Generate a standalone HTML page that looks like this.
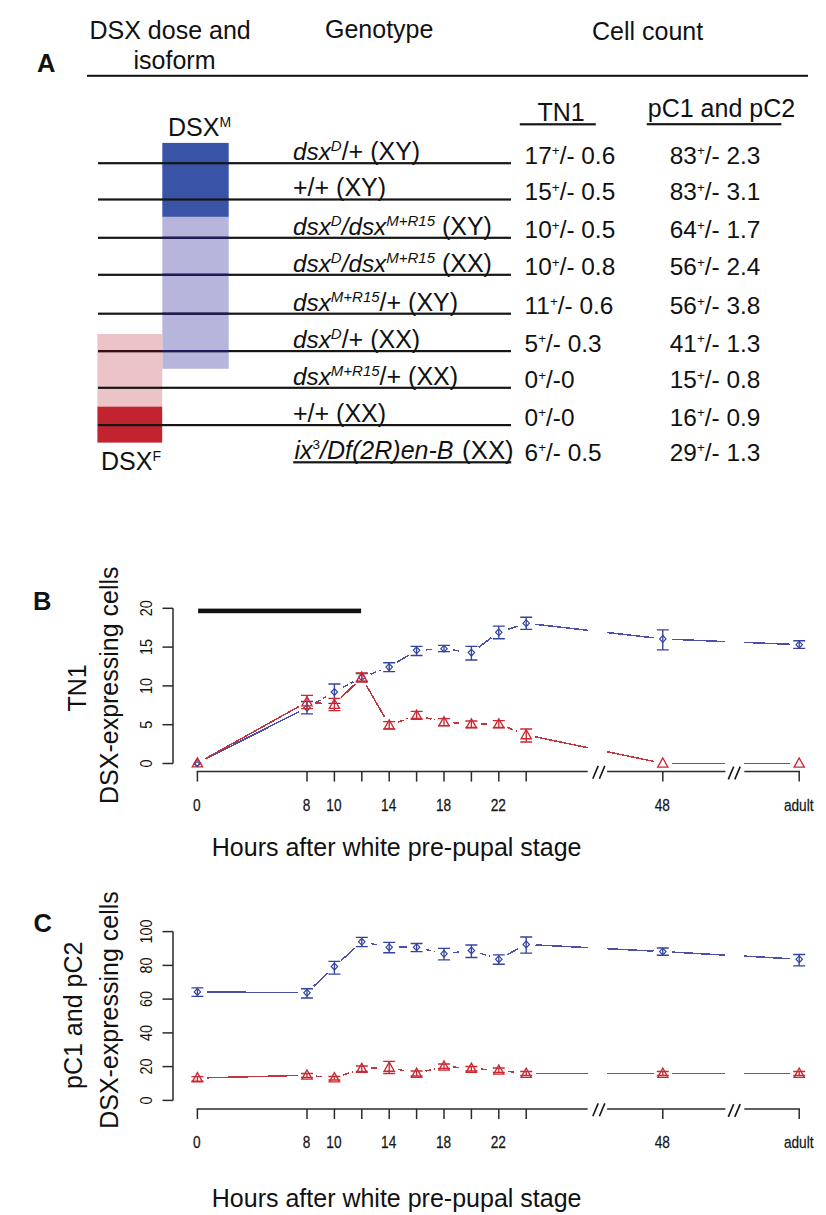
<!DOCTYPE html>
<html><head><meta charset="utf-8"><title>DSX figure</title>
<style>
html,body{margin:0;padding:0;background:#fff;}
svg{display:block;}
text{font-family:"Liberation Sans", sans-serif;fill:#111;}
.it{font-style:italic;}
</style></head><body>
<svg width="826" height="1215" viewBox="0 0 826 1215">
<rect width="826" height="1215" fill="#fff"/>

<text x="37" y="71.6" font-size="25.5" font-weight="bold">A</text>
<text x="89.5" y="38.7" font-size="25">DSX dose and</text>
<text x="133.5" y="68.5" font-size="25">isoform</text>
<text x="325" y="38.3" font-size="25">Genotype</text>
<text x="592" y="39.5" font-size="25">Cell count</text>
<rect x="87" y="74.8" width="721" height="2" fill="#111"/>
<rect x="162.3" y="142.9" width="66.4" height="74" fill="#3953a7"/>
<rect x="162.3" y="216.9" width="66.4" height="151.9" fill="#b8b5dc"/>
<rect x="97.4" y="334" width="64.8" height="72.6" fill="#ecc3c7"/>
<rect x="97.4" y="406.6" width="64.8" height="36" fill="#c1232f"/>
<text x="168" y="136.1" font-size="25">DSX<tspan font-size="14" dy="-9">M</tspan></text>
<text x="101" y="469.6" font-size="25">DSX<tspan font-size="14" dy="-9">F</tspan></text>
<text x="537.5" y="121.4" font-size="25">TN1</text>
<rect x="519.8" y="123.2" width="76" height="2.2" fill="#161616"/>
<text x="647.8" y="116.5" font-size="25">pC1 and pC2</text>
<rect x="646.8" y="123.1" width="134.6" height="2.2" fill="#161616"/>
<rect x="98" y="162.1" width="413" height="2.2" fill="#161616"/>
<rect x="98" y="198.4" width="413" height="2.2" fill="#161616"/>
<rect x="98" y="236.7" width="413" height="2.2" fill="#161616"/>
<rect x="162.3" y="236.7" width="66.4" height="2.2" fill="#1e1a5c"/>
<rect x="98" y="273.7" width="413" height="2.2" fill="#161616"/>
<rect x="162.3" y="273.7" width="66.4" height="2.2" fill="#1e1a5c"/>
<rect x="98" y="312.6" width="413" height="2.2" fill="#161616"/>
<rect x="162.3" y="312.6" width="66.4" height="2.2" fill="#1e1a5c"/>
<rect x="98" y="350.0" width="413" height="2.2" fill="#161616"/>
<rect x="162.3" y="350.0" width="66.4" height="2.2" fill="#1e1a5c"/>
<rect x="98" y="350.0" width="64.3" height="2.2" fill="#3a0e14"/>
<rect x="98" y="386.7" width="413" height="2.2" fill="#161616"/>
<rect x="98" y="424.0" width="413" height="2.2" fill="#161616"/>
<rect x="293.2" y="461.2" width="218" height="2.2" fill="#161616"/>
<text x="293" y="160.0" font-size="25"><tspan class="it" font-size="24.3">dsx</tspan><tspan class="it" font-size="15" dy="-9">D</tspan><tspan dy="9">/+ (XY)</tspan></text>
<text x="524.6" y="163.6" font-size="24.4">17<tspan font-size="13.5" dy="-8.3">+</tspan><tspan dy="8.3">/- 0.6</tspan></text>
<text x="669.8" y="163.6" font-size="24.4">83<tspan font-size="13.5" dy="-8.3">+</tspan><tspan dy="8.3">/- 2.3</tspan></text>
<text x="293" y="196.3" font-size="25">+/+ (XY)</text>
<text x="524.6" y="199.9" font-size="24.4">15<tspan font-size="13.5" dy="-8.3">+</tspan><tspan dy="8.3">/- 0.5</tspan></text>
<text x="669.8" y="199.9" font-size="24.4">83<tspan font-size="13.5" dy="-8.3">+</tspan><tspan dy="8.3">/- 3.1</tspan></text>
<text x="293" y="234.6" font-size="25"><tspan class="it" font-size="24.3">dsx</tspan><tspan class="it" font-size="15" dy="-9">D</tspan><tspan class="it" font-size="24.3" dy="9">/dsx</tspan><tspan class="it" font-size="15" dy="-9">M+R15</tspan><tspan dy="9"> (XY)</tspan></text>
<text x="524.6" y="238.2" font-size="24.4">10<tspan font-size="13.5" dy="-8.3">+</tspan><tspan dy="8.3">/- 0.5</tspan></text>
<text x="669.8" y="238.2" font-size="24.4">64<tspan font-size="13.5" dy="-8.3">+</tspan><tspan dy="8.3">/- 1.7</tspan></text>
<text x="293" y="271.6" font-size="25"><tspan class="it" font-size="24.3">dsx</tspan><tspan class="it" font-size="15" dy="-9">D</tspan><tspan class="it" font-size="24.3" dy="9">/dsx</tspan><tspan class="it" font-size="15" dy="-9">M+R15</tspan><tspan dy="9"> (XX)</tspan></text>
<text x="524.6" y="275.2" font-size="24.4">10<tspan font-size="13.5" dy="-8.3">+</tspan><tspan dy="8.3">/- 0.8</tspan></text>
<text x="669.8" y="275.2" font-size="24.4">56<tspan font-size="13.5" dy="-8.3">+</tspan><tspan dy="8.3">/- 2.4</tspan></text>
<text x="293" y="310.5" font-size="25"><tspan class="it" font-size="24.3">dsx</tspan><tspan class="it" font-size="15" dy="-9">M+R15</tspan><tspan dy="9">/+ (XY)</tspan></text>
<text x="524.6" y="314.1" font-size="24.4">11<tspan font-size="13.5" dy="-8.3">+</tspan><tspan dy="8.3">/- 0.6</tspan></text>
<text x="669.8" y="314.1" font-size="24.4">56<tspan font-size="13.5" dy="-8.3">+</tspan><tspan dy="8.3">/- 3.8</tspan></text>
<text x="293" y="347.9" font-size="25"><tspan class="it" font-size="24.3">dsx</tspan><tspan class="it" font-size="15" dy="-9">D</tspan><tspan dy="9">/+ (XX)</tspan></text>
<text x="524.6" y="351.5" font-size="24.4">5<tspan font-size="13.5" dy="-8.3">+</tspan><tspan dy="8.3">/- 0.3</tspan></text>
<text x="669.8" y="351.5" font-size="24.4">41<tspan font-size="13.5" dy="-8.3">+</tspan><tspan dy="8.3">/- 1.3</tspan></text>
<text x="293" y="384.6" font-size="25"><tspan class="it" font-size="24.3">dsx</tspan><tspan class="it" font-size="15" dy="-9">M+R15</tspan><tspan dy="9">/+ (XX)</tspan></text>
<text x="524.6" y="388.2" font-size="24.4">0<tspan font-size="13.5" dy="-8.3">+</tspan><tspan dy="8.3">/-0</tspan></text>
<text x="669.8" y="388.2" font-size="24.4">15<tspan font-size="13.5" dy="-8.3">+</tspan><tspan dy="8.3">/- 0.8</tspan></text>
<text x="293" y="421.9" font-size="25">+/+ (XX)</text>
<text x="524.6" y="425.5" font-size="24.4">0<tspan font-size="13.5" dy="-8.3">+</tspan><tspan dy="8.3">/-0</tspan></text>
<text x="669.8" y="425.5" font-size="24.4">16<tspan font-size="13.5" dy="-8.3">+</tspan><tspan dy="8.3">/- 0.9</tspan></text>
<text x="294.5" y="458.8" font-size="25"><tspan class="it" font-size="25">ix</tspan><tspan font-size="13.5" dy="-9.5">3</tspan><tspan class="it" font-size="25" dy="9.5">/Df(2R)en-B</tspan><tspan dx="1.5" font-size="25.8"> (XX)</tspan></text>
<text x="524.6" y="460.7" font-size="24.4">6<tspan font-size="13.5" dy="-8.3">+</tspan><tspan dy="8.3">/- 0.5</tspan></text>
<text x="669.8" y="460.7" font-size="24.4">29<tspan font-size="13.5" dy="-8.3">+</tspan><tspan dy="8.3">/- 1.3</tspan></text>
<text x="32.9" y="610.3" font-size="25.5" font-weight="bold">B</text><path d="M173 608.3V763.5" stroke="#2a2a2a" stroke-width="1.5" fill="none"/><path d="M162.5 763.5H173" stroke="#2a2a2a" stroke-width="1.5"/><text transform="translate(152.2 763.5) rotate(-90) scale(0.9 1)" text-anchor="middle" font-size="16" fill="#2a2a2a">0</text><path d="M162.5 724.7H173" stroke="#2a2a2a" stroke-width="1.5"/><text transform="translate(152.2 724.7) rotate(-90) scale(0.9 1)" text-anchor="middle" font-size="16" fill="#2a2a2a">5</text><path d="M162.5 685.9H173" stroke="#2a2a2a" stroke-width="1.5"/><text transform="translate(152.2 685.9) rotate(-90) scale(0.9 1)" text-anchor="middle" font-size="16" fill="#2a2a2a">10</text><path d="M162.5 647.1H173" stroke="#2a2a2a" stroke-width="1.5"/><text transform="translate(152.2 647.1) rotate(-90) scale(0.9 1)" text-anchor="middle" font-size="16" fill="#2a2a2a">15</text><path d="M162.5 608.3H173" stroke="#2a2a2a" stroke-width="1.5"/><text transform="translate(152.2 608.3) rotate(-90) scale(0.9 1)" text-anchor="middle" font-size="16" fill="#2a2a2a">20</text><path d="M196.65 771.4H587.7" stroke="#2a2a2a" stroke-width="1.5"/><path d="M607.1 771.4H725.4" stroke="#2a2a2a" stroke-width="1.5"/><path d="M744.3 771.4H800" stroke="#2a2a2a" stroke-width="1.5"/><path d="M592.8 778.7L598.2 765.9" stroke="#151515" stroke-width="1.6"/><path d="M599.4 778.7L604.8 765.9" stroke="#151515" stroke-width="1.6"/><path d="M728.3 779.4L733.7 766.6" stroke="#151515" stroke-width="1.6"/><path d="M734.8 779.4L740.2 766.6" stroke="#151515" stroke-width="1.6"/><path d="M197.4 771.4V781.6" stroke="#2a2a2a" stroke-width="1.5"/><text transform="translate(196.9 810.6) scale(0.87 1)" text-anchor="middle" font-size="15.7" fill="#2a2a2a" stroke="#2a2a2a" stroke-width="0.25">0</text><path d="M307.0 771.4V781.6" stroke="#2a2a2a" stroke-width="1.5"/><text transform="translate(306.5 810.6) scale(0.87 1)" text-anchor="middle" font-size="15.7" fill="#2a2a2a" stroke="#2a2a2a" stroke-width="0.25">8</text><path d="M334.4 771.4V781.6" stroke="#2a2a2a" stroke-width="1.5"/><text transform="translate(333.9 810.6) scale(0.87 1)" text-anchor="middle" font-size="15.7" fill="#2a2a2a" stroke="#2a2a2a" stroke-width="0.25">10</text><path d="M361.8 771.4V781.6" stroke="#2a2a2a" stroke-width="1.5"/><path d="M389.2 771.4V781.6" stroke="#2a2a2a" stroke-width="1.5"/><text transform="translate(388.7 810.6) scale(0.87 1)" text-anchor="middle" font-size="15.7" fill="#2a2a2a" stroke="#2a2a2a" stroke-width="0.25">14</text><path d="M416.6 771.4V781.6" stroke="#2a2a2a" stroke-width="1.5"/><path d="M444.0 771.4V781.6" stroke="#2a2a2a" stroke-width="1.5"/><text transform="translate(443.5 810.6) scale(0.87 1)" text-anchor="middle" font-size="15.7" fill="#2a2a2a" stroke="#2a2a2a" stroke-width="0.25">18</text><path d="M471.4 771.4V781.6" stroke="#2a2a2a" stroke-width="1.5"/><path d="M498.8 771.4V781.6" stroke="#2a2a2a" stroke-width="1.5"/><text transform="translate(498.3 810.6) scale(0.87 1)" text-anchor="middle" font-size="15.7" fill="#2a2a2a" stroke="#2a2a2a" stroke-width="0.25">22</text><path d="M526.2 771.4V781.6" stroke="#2a2a2a" stroke-width="1.5"/><path d="M662.8 771.4V781.6" stroke="#2a2a2a" stroke-width="1.5"/><text transform="translate(662.3 810.6) scale(0.87 1)" text-anchor="middle" font-size="15.7" fill="#2a2a2a" stroke="#2a2a2a" stroke-width="0.25">48</text><path d="M799.2 771.4V781.6" stroke="#2a2a2a" stroke-width="1.5"/><text transform="translate(798.7 810.6) scale(0.87 1)" text-anchor="middle" font-size="15.7" fill="#2a2a2a" stroke="#2a2a2a" stroke-width="0.25">adult</text><text x="211.8" y="856.3" font-size="25" fill="#1a1a1a">Hours after white pre-pupal stage</text>
<text transform="translate(86 688) rotate(-90)" text-anchor="middle" font-size="25" fill="#1a1a1a">TN1</text>
<text transform="translate(117.5 685.2) rotate(-90)" text-anchor="middle" font-size="25" fill="#1a1a1a">DSX-expressing cells</text>
<rect x="198.1" y="608.6" width="163" height="4.6" fill="#111"/>
<path d="M205.7 758.9L298.7 711.9" stroke="#4a50a8" stroke-width="1.5" fill="none" shape-rendering="crispEdges"/><path d="M315.1 703.1L326.3 696.6" stroke="#4a50a8" stroke-width="1.5" fill="none" shape-rendering="crispEdges" stroke-dasharray="6 3"/><path d="M342.6 687.6L353.6 681.7" stroke="#4a50a8" stroke-width="1.5" fill="none" shape-rendering="crispEdges" stroke-dasharray="6 3"/><path d="M370.5 674.1L380.5 670.3" stroke="#4a50a8" stroke-width="1.5" fill="none" shape-rendering="crispEdges" stroke-dasharray="6 3"/><path d="M397.1 662.2L408.7 655.2" stroke="#4a50a8" stroke-width="1.5" fill="none" shape-rendering="crispEdges"/><path d="M425.9 649.8L434.7 649.2" stroke="#4a50a8" stroke-width="1.5" fill="none" shape-rendering="crispEdges" stroke-dasharray="6 3"/><path d="M453.2 650.0L462.2 651.3" stroke="#4a50a8" stroke-width="1.5" fill="none" shape-rendering="crispEdges" stroke-dasharray="6 3"/><path d="M478.9 647.1L491.3 637.8" stroke="#4a50a8" stroke-width="1.5" fill="none" shape-rendering="crispEdges"/><path d="M507.6 629.4L517.4 626.1" stroke="#4a50a8" stroke-width="1.5" fill="none" shape-rendering="crispEdges"/><path d="M535.4 624.3L587.8 630.3" stroke="#4a50a8" stroke-width="1.5" fill="none" shape-rendering="crispEdges"/><path d="M607.1 632.5L653.6 637.8" stroke="#4a50a8" stroke-width="1.5" fill="none" shape-rendering="crispEdges"/><path d="M672.1 639.3L725.4 641.6" stroke="#4a50a8" stroke-width="1.5" fill="none" shape-rendering="crispEdges"/><path d="M744.3 642.4L789.9 644.3" stroke="#4a50a8" stroke-width="1.5" fill="none" shape-rendering="crispEdges"/><path d="M197.4 759.7L200.6 763.1L197.4 766.5L194.2 763.1Z" fill="none" stroke="#3343a0" stroke-width="1.2"/><path d="M301.0 701.5H313.0M301.0 713.9H313.0M307.0 701.5V713.9" stroke="#3343a0" stroke-width="1.35" fill="none"/><path d="M307.0 704.3L310.2 707.7L307.0 711.1L303.8 707.7Z" fill="none" stroke="#3343a0" stroke-width="1.2"/><path d="M328.4 684.0H340.4M328.4 703.3H340.4M334.4 684.0V703.3" stroke="#3343a0" stroke-width="1.35" fill="none"/><path d="M334.4 688.6L337.6 692.0L334.4 695.4L331.2 692.0Z" fill="none" stroke="#3343a0" stroke-width="1.2"/><path d="M355.8 673.5H367.8M355.8 681.5H367.8M361.8 673.5V681.5" stroke="#3343a0" stroke-width="1.35" fill="none"/><path d="M361.8 673.9L365.0 677.3L361.8 680.7L358.6 677.3Z" fill="none" stroke="#3343a0" stroke-width="1.2"/><path d="M383.2 662.7H395.2M383.2 671.6H395.2M389.2 662.7V671.6" stroke="#3343a0" stroke-width="1.35" fill="none"/><path d="M389.2 663.7L392.4 667.1L389.2 670.5L386.0 667.1Z" fill="none" stroke="#3343a0" stroke-width="1.2"/><path d="M410.6 646.4H422.6M410.6 655.5H422.6M416.6 646.4V655.5" stroke="#3343a0" stroke-width="1.35" fill="none"/><path d="M416.6 646.9L419.8 650.3L416.6 653.7L413.4 650.3Z" fill="none" stroke="#3343a0" stroke-width="1.2"/><path d="M438.0 645.4H450.0M438.0 651.6H450.0M444.0 645.4V651.6" stroke="#3343a0" stroke-width="1.35" fill="none"/><path d="M444.0 645.3L447.2 648.7L444.0 652.1L440.8 648.7Z" fill="none" stroke="#3343a0" stroke-width="1.2"/><path d="M465.4 646.4H477.4M465.4 660.0H477.4M471.4 646.4V660.0" stroke="#3343a0" stroke-width="1.35" fill="none"/><path d="M471.4 649.2L474.6 652.6L471.4 656.0L468.2 652.6Z" fill="none" stroke="#3343a0" stroke-width="1.2"/><path d="M492.8 626.1H504.8M492.8 638.7H504.8M498.8 626.1V638.7" stroke="#3343a0" stroke-width="1.35" fill="none"/><path d="M498.8 628.9L502.0 632.3L498.8 635.7L495.6 632.3Z" fill="none" stroke="#3343a0" stroke-width="1.2"/><path d="M520.2 617.2H532.2M520.2 629.4H532.2M526.2 617.2V629.4" stroke="#3343a0" stroke-width="1.35" fill="none"/><path d="M526.2 619.8L529.4 623.2L526.2 626.6L523.0 623.2Z" fill="none" stroke="#3343a0" stroke-width="1.2"/><path d="M656.8 629.8H668.8M656.8 649.8H668.8M662.8 629.8V649.8" stroke="#3343a0" stroke-width="1.35" fill="none"/><path d="M662.8 635.5L666.0 638.9L662.8 642.3L659.6 638.9Z" fill="none" stroke="#3343a0" stroke-width="1.2"/><path d="M793.2 640.7H805.2M793.2 648.3H805.2M799.2 640.7V648.3" stroke="#3343a0" stroke-width="1.35" fill="none"/><path d="M799.2 641.3L802.4 644.7L799.2 648.1L796.0 644.7Z" fill="none" stroke="#3343a0" stroke-width="1.2"/>
<path d="M205.5 758.6L298.9 706.5" stroke="#c0363e" stroke-width="1.5" fill="none" shape-rendering="crispEdges"/><path d="M316.3 702.8L325.1 703.7" stroke="#c0363e" stroke-width="1.5" fill="none" shape-rendering="crispEdges" stroke-dasharray="6 3"/><path d="M341.0 697.9L355.2 683.9" stroke="#c0363e" stroke-width="1.5" fill="none" shape-rendering="crispEdges"/><path d="M366.4 685.4L384.6 717.1" stroke="#c0363e" stroke-width="1.5" fill="none" shape-rendering="crispEdges"/><path d="M398.0 722.1L407.8 718.5" stroke="#c0363e" stroke-width="1.5" fill="none" shape-rendering="crispEdges" stroke-dasharray="6 3"/><path d="M425.6 717.6L435.0 719.8" stroke="#c0363e" stroke-width="1.5" fill="none" shape-rendering="crispEdges" stroke-dasharray="6 3"/><path d="M453.3 722.7L462.1 723.4" stroke="#c0363e" stroke-width="1.5" fill="none" shape-rendering="crispEdges" stroke-dasharray="6 3"/><path d="M480.7 724.1L489.5 724.1" stroke="#c0363e" stroke-width="1.5" fill="none" shape-rendering="crispEdges" stroke-dasharray="6 3"/><path d="M507.5 727.5L517.5 731.5" stroke="#c0363e" stroke-width="1.5" fill="none" shape-rendering="crispEdges" stroke-dasharray="6 3"/><path d="M535.3 736.8L587.8 747.7" stroke="#c0363e" stroke-width="1.5" fill="none" shape-rendering="crispEdges"/><path d="M607.1 751.7L653.7 761.4" stroke="#c0363e" stroke-width="1.5" fill="none" shape-rendering="crispEdges"/><path d="M672.1 763.3L725.4 763.3" stroke="#c0363e" stroke-width="1.5" fill="none" shape-rendering="crispEdges"/><path d="M744.3 763.3L789.9 763.3" stroke="#c0363e" stroke-width="1.5" fill="none" shape-rendering="crispEdges"/><path d="M197.4 757.8L202.5 766.9L192.3 766.9Z" fill="none" stroke="#cc2833" stroke-width="1.35" stroke-linejoin="miter"/><path d="M301.0 695.3H313.0M301.0 708.6H313.0M307.0 695.3V708.6" stroke="#cc2833" stroke-width="1.35" fill="none"/><path d="M307.0 696.7L312.1 705.8L301.9 705.8Z" fill="none" stroke="#cc2833" stroke-width="1.35" stroke-linejoin="miter"/><path d="M328.4 698.4H340.4M328.4 710.6H340.4M334.4 698.4V710.6" stroke="#cc2833" stroke-width="1.35" fill="none"/><path d="M334.4 699.2L339.5 708.3L329.3 708.3Z" fill="none" stroke="#cc2833" stroke-width="1.35" stroke-linejoin="miter"/><path d="M355.8 673.0H367.8M355.8 682.0H367.8M361.8 673.0V682.0" stroke="#cc2833" stroke-width="1.35" fill="none"/><path d="M361.8 672.0L366.9 681.1L356.7 681.1Z" fill="none" stroke="#cc2833" stroke-width="1.35" stroke-linejoin="miter"/><path d="M383.2 721.6H395.2M383.2 728.8H395.2M389.2 721.6V728.8" stroke="#cc2833" stroke-width="1.35" fill="none"/><path d="M389.2 719.9L394.3 729.0L384.1 729.0Z" fill="none" stroke="#cc2833" stroke-width="1.35" stroke-linejoin="miter"/><path d="M410.6 711.4H422.6M410.6 718.4H422.6M416.6 711.4V718.4" stroke="#cc2833" stroke-width="1.35" fill="none"/><path d="M416.6 710.1L421.7 719.2L411.5 719.2Z" fill="none" stroke="#cc2833" stroke-width="1.35" stroke-linejoin="miter"/><path d="M438.0 718.6H450.0M438.0 725.6H450.0M444.0 718.6V725.6" stroke="#cc2833" stroke-width="1.35" fill="none"/><path d="M444.0 716.7L449.1 725.8L438.9 725.8Z" fill="none" stroke="#cc2833" stroke-width="1.35" stroke-linejoin="miter"/><path d="M465.4 721.0H477.4M465.4 727.5H477.4M471.4 721.0V727.5" stroke="#cc2833" stroke-width="1.35" fill="none"/><path d="M471.4 718.8L476.5 727.9L466.3 727.9Z" fill="none" stroke="#cc2833" stroke-width="1.35" stroke-linejoin="miter"/><path d="M492.8 720.6H504.8M492.8 727.5H504.8M498.8 720.6V727.5" stroke="#cc2833" stroke-width="1.35" fill="none"/><path d="M498.8 718.8L503.9 727.9L493.7 727.9Z" fill="none" stroke="#cc2833" stroke-width="1.35" stroke-linejoin="miter"/><path d="M520.2 729.0H532.2M520.2 742.0H532.2M526.2 729.0V742.0" stroke="#cc2833" stroke-width="1.35" fill="none"/><path d="M526.2 729.6L531.3 738.7L521.1 738.7Z" fill="none" stroke="#cc2833" stroke-width="1.35" stroke-linejoin="miter"/><path d="M662.8 758.0L667.9 767.1L657.7 767.1Z" fill="none" stroke="#cc2833" stroke-width="1.35" stroke-linejoin="miter"/><path d="M799.2 758.0L804.3 767.1L794.1 767.1Z" fill="none" stroke="#cc2833" stroke-width="1.35" stroke-linejoin="miter"/>
<path d="M197.1 761.7L199.8 764.1L197.1 766.5L194.4 764.1Z" fill="none" stroke="#3343a0" stroke-width="1.1"/>
<text x="33.4" y="932.4" font-size="25.5" font-weight="bold">C</text><path d="M173 931.6V1100.4" stroke="#2a2a2a" stroke-width="1.5" fill="none"/><path d="M162.5 1100.4H173" stroke="#2a2a2a" stroke-width="1.5"/><text transform="translate(152.2 1100.4) rotate(-90) scale(0.9 1)" text-anchor="middle" font-size="16" fill="#2a2a2a">0</text><path d="M162.5 1066.6H173" stroke="#2a2a2a" stroke-width="1.5"/><text transform="translate(152.2 1066.6) rotate(-90) scale(0.9 1)" text-anchor="middle" font-size="16" fill="#2a2a2a">20</text><path d="M162.5 1032.9H173" stroke="#2a2a2a" stroke-width="1.5"/><text transform="translate(152.2 1032.9) rotate(-90) scale(0.9 1)" text-anchor="middle" font-size="16" fill="#2a2a2a">40</text><path d="M162.5 999.1H173" stroke="#2a2a2a" stroke-width="1.5"/><text transform="translate(152.2 999.1) rotate(-90) scale(0.9 1)" text-anchor="middle" font-size="16" fill="#2a2a2a">60</text><path d="M162.5 965.4H173" stroke="#2a2a2a" stroke-width="1.5"/><text transform="translate(152.2 965.4) rotate(-90) scale(0.9 1)" text-anchor="middle" font-size="16" fill="#2a2a2a">80</text><path d="M162.5 931.6H173" stroke="#2a2a2a" stroke-width="1.5"/><text transform="translate(152.2 931.6) rotate(-90) scale(0.9 1)" text-anchor="middle" font-size="16" fill="#2a2a2a">100</text><path d="M196.65 1108.9H587.7" stroke="#2a2a2a" stroke-width="1.5"/><path d="M607.1 1108.9H725.4" stroke="#2a2a2a" stroke-width="1.5"/><path d="M744.3 1108.9H800" stroke="#2a2a2a" stroke-width="1.5"/><path d="M592.8 1116.2L598.2 1103.4" stroke="#151515" stroke-width="1.6"/><path d="M599.4 1116.2L604.8 1103.4" stroke="#151515" stroke-width="1.6"/><path d="M728.3 1116.9L733.7 1104.1" stroke="#151515" stroke-width="1.6"/><path d="M734.8 1116.9L740.2 1104.1" stroke="#151515" stroke-width="1.6"/><path d="M197.4 1108.9V1119.1" stroke="#2a2a2a" stroke-width="1.5"/><text transform="translate(196.9 1148.1) scale(0.87 1)" text-anchor="middle" font-size="15.7" fill="#2a2a2a" stroke="#2a2a2a" stroke-width="0.25">0</text><path d="M307.0 1108.9V1119.1" stroke="#2a2a2a" stroke-width="1.5"/><text transform="translate(306.5 1148.1) scale(0.87 1)" text-anchor="middle" font-size="15.7" fill="#2a2a2a" stroke="#2a2a2a" stroke-width="0.25">8</text><path d="M334.4 1108.9V1119.1" stroke="#2a2a2a" stroke-width="1.5"/><text transform="translate(333.9 1148.1) scale(0.87 1)" text-anchor="middle" font-size="15.7" fill="#2a2a2a" stroke="#2a2a2a" stroke-width="0.25">10</text><path d="M361.8 1108.9V1119.1" stroke="#2a2a2a" stroke-width="1.5"/><path d="M389.2 1108.9V1119.1" stroke="#2a2a2a" stroke-width="1.5"/><text transform="translate(388.7 1148.1) scale(0.87 1)" text-anchor="middle" font-size="15.7" fill="#2a2a2a" stroke="#2a2a2a" stroke-width="0.25">14</text><path d="M416.6 1108.9V1119.1" stroke="#2a2a2a" stroke-width="1.5"/><path d="M444.0 1108.9V1119.1" stroke="#2a2a2a" stroke-width="1.5"/><text transform="translate(443.5 1148.1) scale(0.87 1)" text-anchor="middle" font-size="15.7" fill="#2a2a2a" stroke="#2a2a2a" stroke-width="0.25">18</text><path d="M471.4 1108.9V1119.1" stroke="#2a2a2a" stroke-width="1.5"/><path d="M498.8 1108.9V1119.1" stroke="#2a2a2a" stroke-width="1.5"/><text transform="translate(498.3 1148.1) scale(0.87 1)" text-anchor="middle" font-size="15.7" fill="#2a2a2a" stroke="#2a2a2a" stroke-width="0.25">22</text><path d="M526.2 1108.9V1119.1" stroke="#2a2a2a" stroke-width="1.5"/><path d="M662.8 1108.9V1119.1" stroke="#2a2a2a" stroke-width="1.5"/><text transform="translate(662.3 1148.1) scale(0.87 1)" text-anchor="middle" font-size="15.7" fill="#2a2a2a" stroke="#2a2a2a" stroke-width="0.25">48</text><path d="M799.2 1108.9V1119.1" stroke="#2a2a2a" stroke-width="1.5"/><text transform="translate(798.7 1148.1) scale(0.87 1)" text-anchor="middle" font-size="15.7" fill="#2a2a2a" stroke="#2a2a2a" stroke-width="0.25">adult</text><text x="211.8" y="1207.3" font-size="25" fill="#1a1a1a">Hours after white pre-pupal stage</text>
<text transform="translate(81.6 1015.3) rotate(-90)" text-anchor="middle" font-size="25" fill="#1a1a1a">pC1 and pC2</text>
<text transform="translate(118 1010) rotate(-90)" text-anchor="middle" font-size="25" fill="#1a1a1a">DSX-expressing cells</text>
<path d="M206.7 992.0L297.7 992.6" stroke="#4a50a8" stroke-width="1.5" fill="none" shape-rendering="crispEdges"/><path d="M313.7 986.3L327.7 973.0" stroke="#4a50a8" stroke-width="1.5" fill="none" shape-rendering="crispEdges"/><path d="M341.3 960.4L354.9 948.0" stroke="#4a50a8" stroke-width="1.5" fill="none" shape-rendering="crispEdges"/><path d="M370.9 943.6L380.1 945.4" stroke="#4a50a8" stroke-width="1.5" fill="none" shape-rendering="crispEdges" stroke-dasharray="6 3"/><path d="M398.5 947.2L407.3 947.2" stroke="#4a50a8" stroke-width="1.5" fill="none" shape-rendering="crispEdges"/><path d="M425.6 949.4L435.0 951.6" stroke="#4a50a8" stroke-width="1.5" fill="none" shape-rendering="crispEdges" stroke-dasharray="6 3"/><path d="M453.2 952.7L462.2 951.6" stroke="#4a50a8" stroke-width="1.5" fill="none" shape-rendering="crispEdges" stroke-dasharray="6 3"/><path d="M480.3 953.3L489.9 956.4" stroke="#4a50a8" stroke-width="1.5" fill="none" shape-rendering="crispEdges" stroke-dasharray="6 3"/><path d="M507.0 954.8L518.0 948.8" stroke="#4a50a8" stroke-width="1.5" fill="none" shape-rendering="crispEdges"/><path d="M535.5 944.9L587.8 947.6" stroke="#4a50a8" stroke-width="1.5" fill="none" shape-rendering="crispEdges"/><path d="M607.1 948.7L653.5 951.1" stroke="#4a50a8" stroke-width="1.5" fill="none" shape-rendering="crispEdges"/><path d="M672.1 952.1L725.4 955.1" stroke="#4a50a8" stroke-width="1.5" fill="none" shape-rendering="crispEdges"/><path d="M744.3 956.1L789.9 958.7" stroke="#4a50a8" stroke-width="1.5" fill="none" shape-rendering="crispEdges"/><path d="M191.4 987.9H203.4M191.4 996.4H203.4M197.4 987.9V996.4" stroke="#3343a0" stroke-width="1.35" fill="none"/><path d="M197.4 988.5L200.6 991.9L197.4 995.3L194.2 991.9Z" fill="none" stroke="#3343a0" stroke-width="1.2"/><path d="M301.0 988.7H313.0M301.0 998.0H313.0M307.0 988.7V998.0" stroke="#3343a0" stroke-width="1.35" fill="none"/><path d="M307.0 989.3L310.2 992.7L307.0 996.1L303.8 992.7Z" fill="none" stroke="#3343a0" stroke-width="1.2"/><path d="M328.4 961.3H340.4M328.4 974.1H340.4M334.4 961.3V974.1" stroke="#3343a0" stroke-width="1.35" fill="none"/><path d="M334.4 963.2L337.6 966.6L334.4 970.0L331.2 966.6Z" fill="none" stroke="#3343a0" stroke-width="1.2"/><path d="M355.8 937.3H367.8M355.8 946.6H367.8M361.8 937.3V946.6" stroke="#3343a0" stroke-width="1.35" fill="none"/><path d="M361.8 938.4L365.0 941.8L361.8 945.2L358.6 941.8Z" fill="none" stroke="#3343a0" stroke-width="1.2"/><path d="M383.2 942.4H395.2M383.2 952.7H395.2M389.2 942.4V952.7" stroke="#3343a0" stroke-width="1.35" fill="none"/><path d="M389.2 943.8L392.4 947.2L389.2 950.6L386.0 947.2Z" fill="none" stroke="#3343a0" stroke-width="1.2"/><path d="M410.6 943.5H422.6M410.6 951.6H422.6M416.6 943.5V951.6" stroke="#3343a0" stroke-width="1.35" fill="none"/><path d="M416.6 943.8L419.8 947.2L416.6 950.6L413.4 947.2Z" fill="none" stroke="#3343a0" stroke-width="1.2"/><path d="M438.0 948.3H450.0M438.0 959.9H450.0M444.0 948.3V959.9" stroke="#3343a0" stroke-width="1.35" fill="none"/><path d="M444.0 950.4L447.2 953.8L444.0 957.2L440.8 953.8Z" fill="none" stroke="#3343a0" stroke-width="1.2"/><path d="M465.4 945.0H477.4M465.4 957.5H477.4M471.4 945.0V957.5" stroke="#3343a0" stroke-width="1.35" fill="none"/><path d="M471.4 947.1L474.6 950.5L471.4 953.9L468.2 950.5Z" fill="none" stroke="#3343a0" stroke-width="1.2"/><path d="M492.8 954.9H504.8M492.8 964.2H504.8M498.8 954.9V964.2" stroke="#3343a0" stroke-width="1.35" fill="none"/><path d="M498.8 955.8L502.0 959.2L498.8 962.6L495.6 959.2Z" fill="none" stroke="#3343a0" stroke-width="1.2"/><path d="M520.2 937.0H532.2M520.2 953.1H532.2M526.2 937.0V953.1" stroke="#3343a0" stroke-width="1.35" fill="none"/><path d="M526.2 941.0L529.4 944.4L526.2 947.8L523.0 944.4Z" fill="none" stroke="#3343a0" stroke-width="1.2"/><path d="M656.8 948.0H668.8M656.8 955.2H668.8M662.8 948.0V955.2" stroke="#3343a0" stroke-width="1.35" fill="none"/><path d="M662.8 948.2L666.0 951.6L662.8 955.0L659.6 951.6Z" fill="none" stroke="#3343a0" stroke-width="1.2"/><path d="M793.2 954.5H805.2M793.2 965.8H805.2M799.2 954.5V965.8" stroke="#3343a0" stroke-width="1.35" fill="none"/><path d="M799.2 955.8L802.4 959.2L799.2 962.6L796.0 959.2Z" fill="none" stroke="#3343a0" stroke-width="1.2"/>
<path d="M206.7 1077.8L297.7 1075.5" stroke="#c0363e" stroke-width="1.5" fill="none" shape-rendering="crispEdges"/><path d="M316.3 1076.2L325.1 1077.1" stroke="#c0363e" stroke-width="1.5" fill="none" shape-rendering="crispEdges" stroke-dasharray="6 3"/><path d="M343.2 1075.0L353.0 1071.6" stroke="#c0363e" stroke-width="1.5" fill="none" shape-rendering="crispEdges" stroke-dasharray="6 3"/><path d="M371.1 1068.2L379.9 1067.8" stroke="#c0363e" stroke-width="1.5" fill="none" shape-rendering="crispEdges" stroke-dasharray="6 3"/><path d="M398.3 1069.4L407.5 1071.5" stroke="#c0363e" stroke-width="1.5" fill="none" shape-rendering="crispEdges" stroke-dasharray="6 3"/><path d="M425.6 1071.1L435.0 1068.7" stroke="#c0363e" stroke-width="1.5" fill="none" shape-rendering="crispEdges" stroke-dasharray="6 3"/><path d="M453.3 1067.0L462.1 1067.8" stroke="#c0363e" stroke-width="1.5" fill="none" shape-rendering="crispEdges" stroke-dasharray="6 3"/><path d="M480.7 1069.1L489.5 1069.7" stroke="#c0363e" stroke-width="1.5" fill="none" shape-rendering="crispEdges" stroke-dasharray="6 3"/><path d="M508.0 1071.4L517.0 1072.4" stroke="#c0363e" stroke-width="1.5" fill="none" shape-rendering="crispEdges" stroke-dasharray="6 3"/><path d="M535.5 1073.5L587.8 1073.5" stroke="#c0363e" stroke-width="1.5" fill="none" shape-rendering="crispEdges"/><path d="M607.1 1073.5L653.5 1073.5" stroke="#c0363e" stroke-width="1.5" fill="none" shape-rendering="crispEdges"/><path d="M672.1 1073.5L725.4 1073.5" stroke="#c0363e" stroke-width="1.5" fill="none" shape-rendering="crispEdges"/><path d="M744.3 1073.5L789.9 1073.5" stroke="#c0363e" stroke-width="1.5" fill="none" shape-rendering="crispEdges"/><path d="M191.4 1076.6H203.4M191.4 1081.2H203.4M197.4 1076.6V1081.2" stroke="#cc2833" stroke-width="1.35" fill="none"/><path d="M197.4 1072.7L202.5 1081.8L192.3 1081.8Z" fill="none" stroke="#cc2833" stroke-width="1.35" stroke-linejoin="miter"/><path d="M301.0 1073.5H313.0M301.0 1077.5H313.0M307.0 1073.5V1077.5" stroke="#cc2833" stroke-width="1.35" fill="none"/><path d="M307.0 1070.0L312.1 1079.1L301.9 1079.1Z" fill="none" stroke="#cc2833" stroke-width="1.35" stroke-linejoin="miter"/><path d="M328.4 1076.5H340.4M328.4 1080.0H340.4M334.4 1076.5V1080.0" stroke="#cc2833" stroke-width="1.35" fill="none"/><path d="M334.4 1072.7L339.5 1081.8L329.3 1081.8Z" fill="none" stroke="#cc2833" stroke-width="1.35" stroke-linejoin="miter"/><path d="M355.8 1066.0H367.8M355.8 1071.5H367.8M361.8 1066.0V1071.5" stroke="#cc2833" stroke-width="1.35" fill="none"/><path d="M361.8 1063.3L366.9 1072.4L356.7 1072.4Z" fill="none" stroke="#cc2833" stroke-width="1.35" stroke-linejoin="miter"/><path d="M383.2 1061.3H395.2M383.2 1073.5H395.2M389.2 1061.3V1073.5" stroke="#cc2833" stroke-width="1.35" fill="none"/><path d="M389.2 1062.1L394.3 1071.2L384.1 1071.2Z" fill="none" stroke="#cc2833" stroke-width="1.35" stroke-linejoin="miter"/><path d="M410.6 1071.0H422.6M410.6 1076.0H422.6M416.6 1071.0V1076.0" stroke="#cc2833" stroke-width="1.35" fill="none"/><path d="M416.6 1068.2L421.7 1077.3L411.5 1077.3Z" fill="none" stroke="#cc2833" stroke-width="1.35" stroke-linejoin="miter"/><path d="M438.0 1064.0H450.0M438.0 1068.5H450.0M444.0 1064.0V1068.5" stroke="#cc2833" stroke-width="1.35" fill="none"/><path d="M444.0 1061.0L449.1 1070.1L438.9 1070.1Z" fill="none" stroke="#cc2833" stroke-width="1.35" stroke-linejoin="miter"/><path d="M465.4 1066.5H477.4M465.4 1071.0H477.4M471.4 1066.5V1071.0" stroke="#cc2833" stroke-width="1.35" fill="none"/><path d="M471.4 1063.2L476.5 1072.3L466.3 1072.3Z" fill="none" stroke="#cc2833" stroke-width="1.35" stroke-linejoin="miter"/><path d="M492.8 1068.0H504.8M492.8 1072.5H504.8M498.8 1068.0V1072.5" stroke="#cc2833" stroke-width="1.35" fill="none"/><path d="M498.8 1065.0L503.9 1074.1L493.7 1074.1Z" fill="none" stroke="#cc2833" stroke-width="1.35" stroke-linejoin="miter"/><path d="M520.2 1071.5H532.2M520.2 1075.5H532.2M526.2 1071.5V1075.5" stroke="#cc2833" stroke-width="1.35" fill="none"/><path d="M526.2 1068.2L531.3 1077.3L521.1 1077.3Z" fill="none" stroke="#cc2833" stroke-width="1.35" stroke-linejoin="miter"/><path d="M656.8 1071.5H668.8M656.8 1075.5H668.8M662.8 1071.5V1075.5" stroke="#cc2833" stroke-width="1.35" fill="none"/><path d="M662.8 1068.2L667.9 1077.3L657.7 1077.3Z" fill="none" stroke="#cc2833" stroke-width="1.35" stroke-linejoin="miter"/><path d="M793.2 1071.5H805.2M793.2 1075.5H805.2M799.2 1071.5V1075.5" stroke="#cc2833" stroke-width="1.35" fill="none"/><path d="M799.2 1068.2L804.3 1077.3L794.1 1077.3Z" fill="none" stroke="#cc2833" stroke-width="1.35" stroke-linejoin="miter"/>
</svg></body></html>
